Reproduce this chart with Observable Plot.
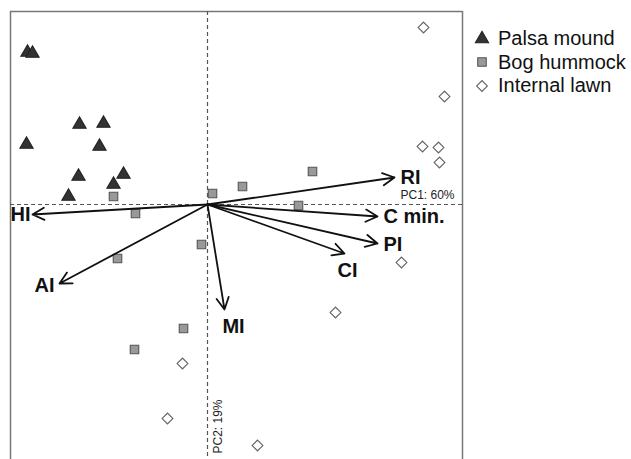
<!DOCTYPE html>
<html>
<head>
<meta charset="utf-8">
<script src="https://cdn.jsdelivr.net/npm/d3@7"></script>
<script src="https://cdn.jsdelivr.net/npm/@observablehq/plot@0.6"></script>
<style>
  html, body { margin: 0; padding: 0; background: #fff; overflow: hidden; }
  #wrap { position: relative; width: 631px; height: 459px; font-family: "Liberation Sans", Arial, sans-serif; }
  #legend { position: absolute; left: 472px; top: 27px; font-size: 20px; color: #111; }
  #legend .row { display: flex; align-items: center; height: 23.5px; white-space: nowrap; }
  #legend svg { width: 20px; height: 20px; margin-right: 6px; }
</style>
</head>
<body>
<div id="wrap"><div id="legend"></div></div>
<script>
// Site groups
const groups = ["Palsa mound", "Bog hummock", "Internal lawn"];

// Sample scores (PC1, PC2) per group
const palsaX = [-1.80, -1.75, -1.28, -1.04, -1.81, -1.08, -1.29, -0.84, -0.94, -1.39];
const palsaY = [ 1.52,  1.51,  0.80,  0.81,  0.60,  0.58,  0.28,  0.30,  0.20,  0.08];
const bogX   = [-0.94,  0.05, -0.72,  0.35,  1.05,  0.91, -0.06, -0.90, -0.24, -0.73];
const bogY   = [ 0.08,  0.11, -0.09,  0.18,  0.33, -0.01, -0.40, -0.54, -1.24, -1.45];
const lawnX  = [ 2.16,  2.37,  2.15,  2.31,  2.32,  1.94,  1.28, -0.25, -0.40,  0.50];
const lawnY  = [ 1.77,  1.08,  0.58,  0.57,  0.42, -0.58, -1.08, -1.59, -2.14, -2.41];

// Variable loadings (arrows)
const varNames = ["RI", "C min.", "PI", "CI", "MI", "HI", "AI"];
const varX     = [1.87, 1.70, 1.70, 1.37, 0.17, -1.75, -1.48];
const varY     = [0.27, -0.12, -0.39, -0.49, -1.05, -0.10, -0.79];

// Axis labels
const pc1Label = "PC1: 60%";
const pc2Label = "PC2: 19%";

// Axis extents
const xDomain = [-1.97, 2.55];
const yDomain = [-2.55, 1.93];

// ---- build tables ----
const samples = [
  ...palsaX.map((x, i) => ({group: groups[0], x, y: palsaY[i]})),
  ...bogX.map((x, i) => ({group: groups[1], x, y: bogY[i]})),
  ...lawnX.map((x, i) => ({group: groups[2], x, y: lawnY[i]}))
];
const loadings = varNames.map((name, i) => ({name, x: varX[i], y: varY[i]}));

// label placement (layout only)
const labelStyle = {
  "RI":     {anchor: "start",  dx: 6,  dy: 0},
  "C min.": {anchor: "start",  dx: 6,  dy: 0},
  "PI":     {anchor: "start",  dx: 6,  dy: 1},
  "CI":     {anchor: "middle", dx: 3,  dy: 17},
  "MI":     {anchor: "middle", dx: 9,  dy: 17},
  "HI":     {anchor: "end",    dx: -2, dy: 0},
  "AI":     {anchor: "end",    dx: -5, dy: 2}
};

const markStyle = {
  "Palsa mound":   {symbol: "triangle", r: 4.9, fill: "#333", stroke: "#222", rotate: 0},
  "Bog hummock":   {symbol: "square",   r: 4.8, fill: "#999", stroke: "#555", rotate: 0},
  "Internal lawn": {symbol: "square",   r: 4.3, fill: "#fff", stroke: "#666", rotate: 45}
};

const font = "Liberation Sans, Arial, sans-serif";

const marks = [
  // frame (left, top, right — bottom is cut off)
  Plot.ruleX([xDomain[0], xDomain[1]], {stroke: "#777", strokeWidth: 1.5}),
  Plot.ruleY([yDomain[1]], {stroke: "#777", strokeWidth: 1.5}),
  // dashed axes through origin
  Plot.ruleY([0], {stroke: "#555", strokeWidth: 1.2, strokeDasharray: "4,3"}),
  Plot.ruleX([0], {stroke: "#555", strokeWidth: 1.2, strokeDasharray: "4,3"}),
  // points
  ...groups.map(g => Plot.dot(samples.filter(d => d.group === g), {
    x: "x", y: "y",
    symbol: markStyle[g].symbol, r: markStyle[g].r,
    fill: markStyle[g].fill, stroke: markStyle[g].stroke, strokeWidth: 1.1,
    rotate: markStyle[g].rotate
  })),
  // arrows
  Plot.arrow(loadings, {
    x1: () => 0, y1: () => 0, x2: "x", y2: "y",
    stroke: "#111", strokeWidth: 1.8, headLength: 11, headAngle: 55, bend: 0
  }),
  // arrow labels
  ...loadings.map(d => Plot.text([d], {
    x: "x", y: "y", text: "name",
    textAnchor: labelStyle[d.name].anchor,
    dx: labelStyle[d.name].dx, dy: labelStyle[d.name].dy,
    fontSize: 20, fontWeight: "bold", fill: "#111", fontFamily: font
  })),
  // axis labels
  Plot.text([pc1Label], {
    x: () => xDomain[1], y: () => 0, text: d => d,
    textAnchor: "end", dx: -8, dy: -9, fontSize: 12, fill: "#222", fontFamily: font
  }),
  Plot.text([pc2Label], {
    x: () => 0, y: () => yDomain[0], text: d => d,
    rotate: -90, textAnchor: "start", dx: 11, dy: -6, fontSize: 12, fill: "#222", fontFamily: font
  })
];

const chart = Plot.plot({
  width: 631, height: 459,
  marginLeft: 10, marginRight: 169, marginTop: 11, marginBottom: 0,
  x: {domain: xDomain, axis: null},
  y: {domain: yDomain, axis: null},
  style: {background: "#fff", fontFamily: font},
  marks
});
document.getElementById("wrap").prepend(chart);

// legend
const legend = d3.select("#legend");
groups.forEach(g => {
  const s = markStyle[g];
  const row = legend.append("div").attr("class", "row");
  const svg = row.append("svg").attr("viewBox", "-10 -10 20 20");
  const sym = s.symbol === "triangle" ? d3.symbolTriangle : d3.symbolSquare;
  svg.append("path")
    .attr("d", d3.symbol(sym, Math.PI * s.r * s.r)())
    .attr("transform", `rotate(${s.rotate})`)
    .attr("fill", s.fill).attr("stroke", s.stroke).attr("stroke-width", 1.1);
  row.append("span").text(g);
});
</script>
</body>
</html>
